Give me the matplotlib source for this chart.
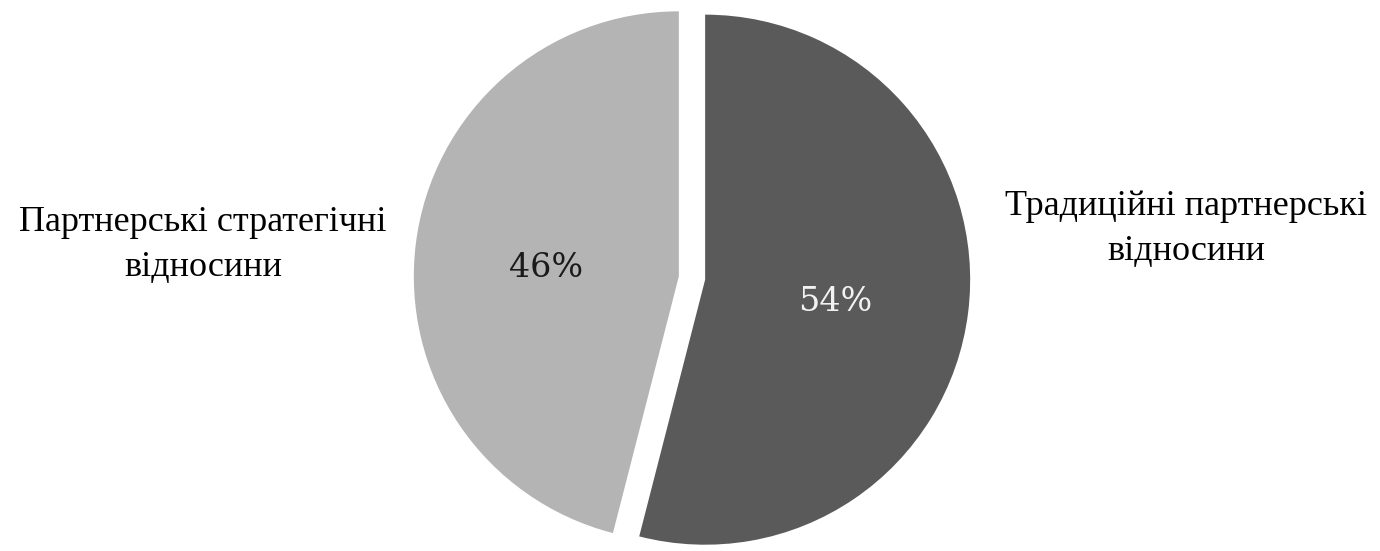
import matplotlib
matplotlib.use("Agg")
import matplotlib.pyplot as plt

categories = ["Традиційні партнерські\nвідносини", "Партнерські стратегічні\nвідносини"]
values = [54, 46]
colors = ["#5a5a5a", "#b4b4b4"]
pct_colors = ["#f2f2f2", "#1a1a1a"]

fig = plt.figure(figsize=(13.8, 5.51), dpi=100)
ax = fig.add_axes([0, 0, 1, 1])

wedges, texts, autotexts = ax.pie(
    values, colors=colors, startangle=90, counterclock=False,
    explode=[0.05, 0.05], radius=1.0, autopct="%d%%", pctdistance=0.5,
    wedgeprops=dict(linewidth=0), textprops=dict(family="DejaVu Serif", fontsize=24),
)
ax.set_xlim(-2.611, 2.596)
ax.set_ylim(-1.030, 1.049)
ax.set_aspect("equal")
ax.axis("off")

pct_pos = [(0.540, -0.091), (-0.551, 0.038)]
for t, c, p in zip(autotexts, pct_colors, pct_pos):
    t.set_color(c)
    t.set_position(p)

label_pos = [(1.864, 0.185), (-1.845, 0.125)]
for lab, p in zip(categories, label_pos):
    ax.text(p[0], p[1], lab, ha="center", va="center", family="Liberation Serif",
            fontsize=26, linespacing=1.45, color="#000000")

fig.savefig("out.png", dpi=100)
